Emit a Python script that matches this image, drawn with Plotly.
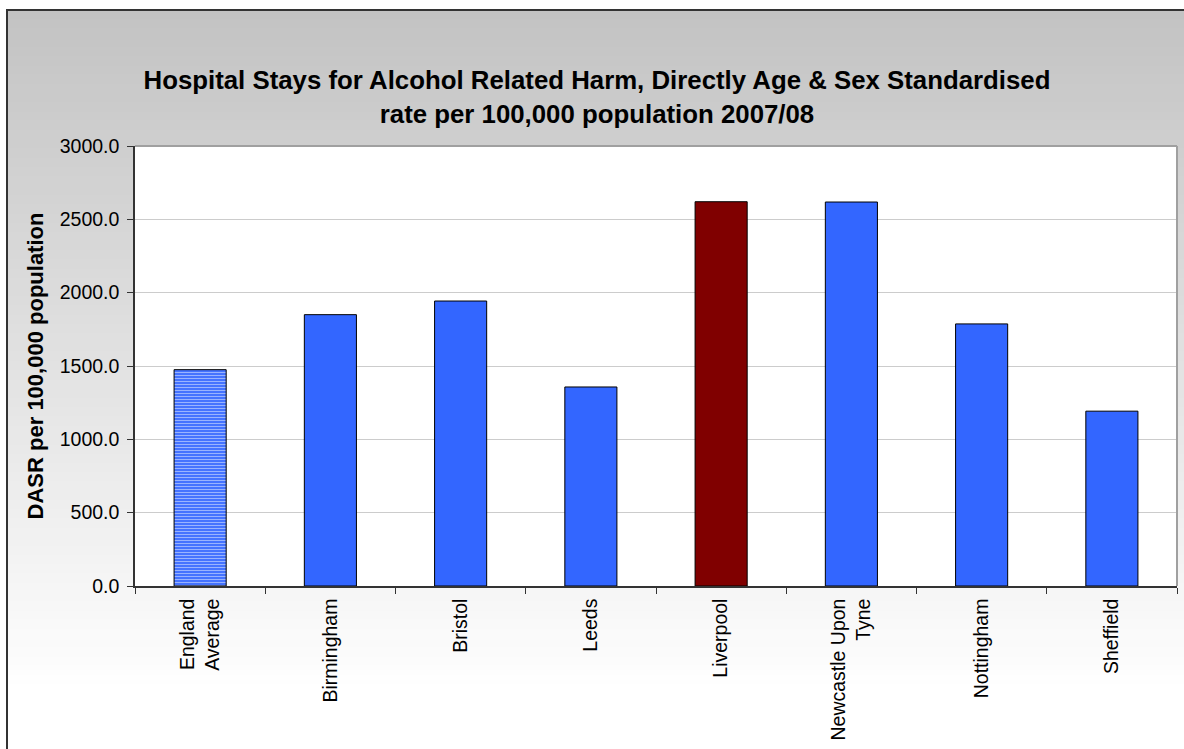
import plotly.graph_objects as go

# data
areas = ["England<br>Average", "Birmingham", "Bristol", "Leeds", "Liverpool",
         "Newcastle Upon<br>Tyne", "Nottingham", "Sheffield"]
dasr = [1475, 1850, 1943, 1357, 2620, 2618, 1787, 1192]
y_ticks = [0, 500, 1000, 1500, 2000, 2500, 3000]

BLUE = "#3366ff"
DARK_RED = "#800000"

colors = [BLUE] * len(areas)
colors[4] = DARK_RED
patterns = ["-"] + [""] * (len(areas) - 1)

W, H = 1184, 749
L, R, T, B = 135, 7, 146, 163
pw, ph = W - L - R, H - T - B


def px_x(x):
    return (x - L) / pw


def px_y(y):
    return (H - B - y) / ph


fig = go.Figure()
fig.add_trace(go.Bar(
    x=areas,
    y=dasr,
    marker=dict(
        color=colors,
        line=dict(color="black", width=1),
        pattern=dict(shape=patterns, fgcolor=BLUE, bgcolor="#dfe6ff",
                     size=3, solidity=0.45),
    ),
    width=0.4,
    hovertemplate="%{x}: %{y:.1f}<extra></extra>",
))

# ── gradient chart-area background (grey at top fading to white) ──
shapes = []
n_bands = 80
top_px, bot_px = 10, H
for i in range(n_bands):
    y0 = top_px + (bot_px - top_px) * i / n_bands
    y1 = top_px + (bot_px - top_px) * (i + 1) / n_bands + 1
    g = int(round(195 + (255 - 195) * min(1.0, i / (n_bands * 0.92))))
    shapes.append(dict(
        type="rect", xref="paper", yref="paper", layer="below",
        x0=px_x(7), x1=px_x(W + 5), y0=px_y(y0), y1=px_y(y1),
        fillcolor=f"rgb({g},{g},{g})", line=dict(width=0),
    ))
# white plot area on top of the gradient
shapes.append(dict(type="rect", xref="paper", yref="paper", layer="below",
                   x0=0, x1=1, y0=0, y1=1, fillcolor="white", line=dict(width=0)))
# outer chart border
shapes.append(dict(type="rect", xref="paper", yref="paper", layer="above",
                   x0=px_x(7), x1=px_x(W + 20), y0=px_y(10), y1=px_y(H + 20),
                   line=dict(color="#333333", width=2), fillcolor="rgba(0,0,0,0)"))
# light grey top/right plot border
shapes.append(dict(type="line", xref="paper", yref="paper", layer="above",
                   x0=0, x1=1, y0=1, y1=1, line=dict(color="#a0a0a0", width=2)))
shapes.append(dict(type="line", xref="paper", yref="paper", layer="above",
                   x0=1, x1=1, y0=0, y1=1, line=dict(color="#a0a0a0", width=2)))

fig.update_layout(
    width=W,
    height=H,
    margin=dict(l=L, r=R, t=T, b=B),
    paper_bgcolor="white",
    plot_bgcolor="white",
    shapes=shapes,
    showlegend=False,
    bargap=0.6,
    font=dict(family="Liberation Sans, Arial, sans-serif", size=19, color="black"),
    title=dict(
        text="<b>Hospital Stays for Alcohol Related Harm, Directly Age & Sex Standardised<br>"
             "rate per 100,000 population 2007/08</b>",
        x=px_x(597), xanchor="center", xref="paper",
        y=1 - 89 / H, yanchor="middle",
        font=dict(size=25.8, color="black"),
    ),
)

fig.update_xaxes(
    tickangle=-90,
    ticks="outside",
    tickson="boundaries",
    ticklen=6,
    tickcolor="#333333",
    showline=True,
    linecolor="#333333",
    linewidth=1.5,
    showgrid=False,
    tickfont=dict(size=19.5),
    ticklabelstandoff=3,
)
fig.update_yaxes(
    range=[0, 3000],
    tickvals=y_ticks,
    tickformat=".1f",
    ticks="outside",
    ticklen=6,
    tickcolor="#333333",
    showline=True,
    linecolor="#333333",
    linewidth=1.5,
    showgrid=True,
    gridcolor="#cccccc",
    gridwidth=1,
    zeroline=False,
    tickfont=dict(size=19.5),
    ticklabelstandoff=4,
    title=dict(text="<b>DASR per 100,000 population</b>", font=dict(size=22), standoff=10),
)

fig.write_html("out.html", config={"displayModeBar": False},
               post_script="document.body.style.margin='0';")
